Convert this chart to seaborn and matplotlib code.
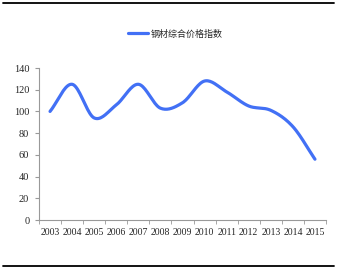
import numpy as np
import pandas as pd
import matplotlib
matplotlib.use("Agg")
import matplotlib.pyplot as plt
import seaborn as sns
from matplotlib.lines import Line2D

years = ["2003", "2004", "2005", "2006", "2007", "2008", "2009",
         "2010", "2011", "2012", "2013", "2014", "2015"]
index_values = [100, 125, 94, 106, 125, 103, 108, 128, 118, 105, 101, 86, 56]
series_name = "钢材综合价格指数"
y_ticks = [0, 20, 40, 60, 80, 100, 120, 140]


def smooth(xv, yv, n=20):
    # Catmull-Rom spline through the data points (display smoothing only)
    xv = np.asarray(xv, float)
    yv = np.asarray(yv, float)
    px = np.concatenate([[2 * xv[0] - xv[1]], xv, [2 * xv[-1] - xv[-2]]])
    py = np.concatenate([[2 * yv[0] - yv[1]], yv, [2 * yv[-1] - yv[-2]]])
    ox, oy = [], []
    for i in range(1, len(px) - 2):
        t = np.linspace(0, 1, n, endpoint=False)
        for p, o in ((px, ox), (py, oy)):
            p0, p1, p2, p3 = p[i - 1], p[i], p[i + 1], p[i + 2]
            o.extend(0.5 * (2 * p1 + (-p0 + p2) * t
                            + (2 * p0 - 5 * p1 + 4 * p2 - p3) * t ** 2
                            + (-p0 + 3 * p1 - 3 * p2 + p3) * t ** 3))
    ox.append(xv[-1])
    oy.append(yv[-1])
    return np.array(ox), np.array(oy)


sns.set_style("white")
plt.rcParams["font.family"] = ["Liberation Serif", "Noto Sans CJK SC"]

fig = plt.figure(figsize=(3.41, 2.70), dpi=100)
ax = fig.add_axes([39 / 341, 1 - 220 / 270, (326 - 39) / 341, (220 - 68) / 270])

xpos = np.arange(len(years))
sx, sy = smooth(xpos, index_values)
df = pd.DataFrame({"x": sx, "y": sy, "s": series_name})
sns.lineplot(data=df, x="x", y="y", hue="s", sort=False, ax=ax,
             palette=["#4270F5"], linewidth=2.3, legend=False)

ax.set_xlim(-0.5, len(years) - 0.5)
ax.set_ylim(0, 140)
ax.set_yticks(y_ticks)
ax.set_yticklabels([str(v) for v in y_ticks], fontsize=7.5)
ax.set_xticks(xpos)
ax.set_xticklabels(years, fontsize=7)
ax.set_xticks(np.arange(len(years) + 1) - 0.5, minor=True)
ax.tick_params(axis="x", which="major", length=0, pad=6)
ax.tick_params(axis="x", which="minor", length=3, color="#999999", direction="out", bottom=True)
ax.tick_params(axis="y", length=3, color="#999999", direction="out", left=True, pad=4)
ax.set_xlabel("")
ax.set_ylabel("")
for side in ("top", "right"):
    ax.spines[side].set_visible(False)
for side in ("left", "bottom"):
    ax.spines[side].set_color("#999999")
    ax.spines[side].set_linewidth(0.8)

handle = Line2D([], [], color="#4270F5", linewidth=2.3)
leg = fig.legend([handle], [series_name], loc="center",
                 bbox_to_anchor=(0.515, 1 - 34 / 270), frameon=False,
                 handlelength=2.2, handletextpad=0.3,
                 prop={"family": "Noto Sans CJK SC", "size": 6.5})

fig.add_artist(Line2D([3 / 341, 334 / 341], [1 - 3 / 270, 1 - 3 / 270],
                      color="black", linewidth=1.3))
fig.add_artist(Line2D([3 / 341, 334 / 341], [1 - 266 / 270, 1 - 266 / 270],
                      color="black", linewidth=1.3))

fig.savefig("out.png", dpi=100)
